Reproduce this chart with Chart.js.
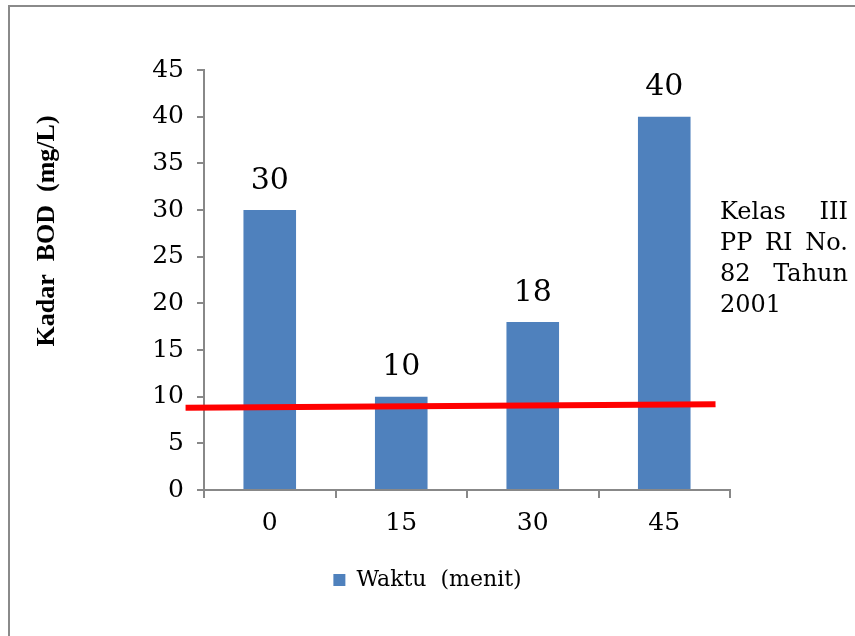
<!DOCTYPE html>
<html>
<head>
<meta charset="utf-8">
<style>
  html, body { margin: 0; padding: 0; background: #fff; }
  #wrap { position: relative; width: 855px; height: 636px; }
</style>
<script src="https://cdn.jsdelivr.net/npm/chart.js@4.4.1/dist/chart.umd.min.js"></script>
</head>
<body>
<div id="wrap"><canvas id="c" width="855" height="636"></canvas></div>
<script>
// Waktu (menit) categories and measured BOD values
const waktu = ['0', '15', '30', '45'];
const kadarBOD = [30, 10, 18, 40];
// Class III standard line (mg/L), start and end values
const bakuMutu = [8.8, 9.2];
// Axis ticks
const yTicks = [0, 5, 10, 15, 20, 25, 30, 35, 40, 45];
const judulY = 'Kadar  BOD  (mg/L)';
const namaSeri = 'Waktu  (menit)';
const catatan = ['Kelas III', 'PP RI No.', '82 Tahun', '2001'];

const SERIF = '"DejaVu Serif", serif';
const AXIS_COLOR = '#888888';

Chart.defaults.color = '#000';

const framePlugin = {
  id: 'frame',
  beforeDraw(chart) {
    const ctx = chart.ctx;
    ctx.save();
    ctx.fillStyle = '#fff';
    ctx.fillRect(0, 0, chart.width, chart.height);
    ctx.strokeStyle = '#8a8a8a';
    ctx.lineWidth = 2;
    ctx.beginPath();
    ctx.moveTo(9, chart.height);
    ctx.lineTo(9, 6);
    ctx.lineTo(chart.width, 6);
    ctx.stroke();
    ctx.restore();
  }
};

const annotPlugin = {
  id: 'annot',
  afterDatasetsDraw(chart) {
    const ctx = chart.ctx;
    const xs = chart.scales.x;
    const ys = chart.scales.y;

    // value labels above bars
    ctx.save();
    ctx.font = '30px ' + SERIF;
    ctx.fillStyle = '#000';
    ctx.textAlign = 'center';
    ctx.textBaseline = 'middle';
    chart.getDatasetMeta(0).data.forEach((bar, i) => {
      ctx.fillText(String(kadarBOD[i]), bar.x, bar.y - 29);
    });
    ctx.restore();

    // standard limit line, spanning from left of the axis to near the last bar
    const x0 = xs.getPixelForValue(0), x1 = xs.getPixelForValue(1);
    const step = x1 - x0;
    const sx = x0 - 0.64 * step, ex = x0 + 3.39 * step;
    ctx.save();
    ctx.strokeStyle = '#ff0000';
    ctx.lineWidth = 6;
    ctx.beginPath();
    ctx.moveTo(sx, ys.getPixelForValue(bakuMutu[0]));
    ctx.lineTo(ex, ys.getPixelForValue(bakuMutu[1]));
    ctx.stroke();
    ctx.restore();

    // y axis title
    ctx.save();
    ctx.translate(47, 231);
    ctx.rotate(-Math.PI / 2);
    ctx.font = 'bold 26px "Liberation Serif", serif';
    ctx.fillStyle = '#000';
    ctx.textAlign = 'center';
    ctx.textBaseline = 'middle';
    ctx.fillText(judulY, 0, 0);
    ctx.restore();

    // justified note on the right
    ctx.save();
    ctx.font = '24px ' + SERIF;
    ctx.fillStyle = '#000';
    ctx.textBaseline = 'middle';
    ctx.textAlign = 'left';
    const left = 720, right = 848;
    catatan.forEach((line, i) => {
      const y = 213 + i * 31;
      const words = line.split(' ');
      if (i === catatan.length - 1 || words.length < 2) {
        ctx.fillText(line, left, y);
        return;
      }
      const widths = words.map(w => ctx.measureText(w).width);
      const total = widths.reduce((a, b) => a + b, 0);
      const gap = (right - left - total) / (words.length - 1);
      let x = left;
      words.forEach((w, k) => {
        ctx.fillText(w, x, y);
        x += widths[k] + gap;
      });
    });
    ctx.restore();
  }
};

new Chart(document.getElementById('c'), {
  type: 'bar',
  data: {
    labels: waktu,
    datasets: [{
      label: namaSeri,
      data: kadarBOD,
      backgroundColor: '#4f81bd',
      borderWidth: 0,
      barPercentage: 0.4,
      categoryPercentage: 1.0
    }]
  },
  options: {
    responsive: false,
    animation: false,
    events: [],
    layout: { padding: { top: 70, right: 0, bottom: 35, left: 0 } },
    plugins: {
      tooltip: { enabled: false },
      legend: {
        position: 'bottom',
        labels: {
          font: { family: SERIF, size: 22 },
          color: '#000',
          boxWidth: 12,
          boxHeight: 12,
          padding: 10
        }
      }
    },
    scales: {
      x: {
        grid: {
          drawOnChartArea: false,
          drawTicks: true,
          tickLength: 8,
          color: AXIS_COLOR,
          lineWidth: 2,
          offset: true
        },
        border: { display: true, color: AXIS_COLOR, width: 2 },
        ticks: { font: { family: SERIF, size: 25 }, color: '#000', padding: 10 },
        afterFit(scale) { scale.height = 69; }
      },
      y: {
        min: 0,
        max: 45,
        afterBuildTicks(scale) { scale.ticks = yTicks.map(v => ({ value: v })); },
        grid: {
          drawOnChartArea: false,
          drawTicks: true,
          tickLength: 7,
          color: AXIS_COLOR,
          lineWidth: 2
        },
        border: { display: true, color: AXIS_COLOR, width: 2 },
        ticks: { font: { family: SERIF, size: 25 }, color: '#000', padding: 13 },
        afterFit(scale) { scale.width = 204; }
      },
      kanan: {
        position: 'right',
        min: 0,
        max: 45,
        grid: { display: false },
        border: { display: false },
        ticks: { display: false },
        afterFit(scale) { scale.width = 125; }
      }
    }
  },
  plugins: [framePlugin, annotPlugin]
});
</script>
</body>
</html>
